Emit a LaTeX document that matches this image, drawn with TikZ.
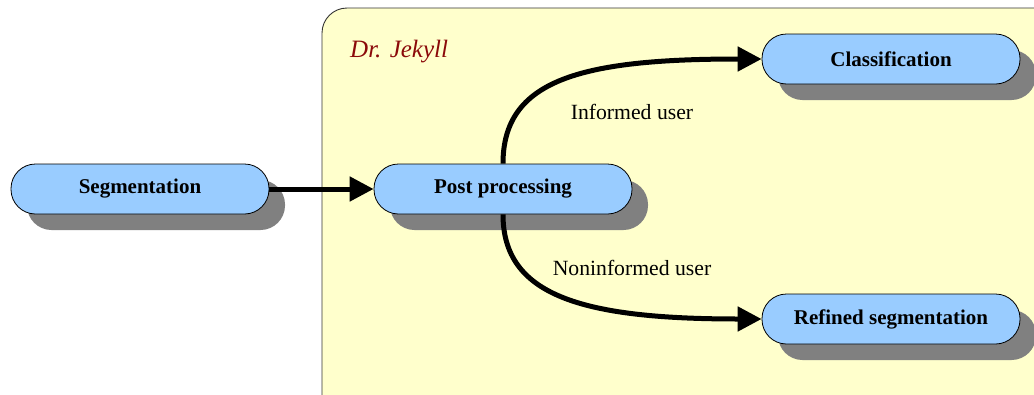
\documentclass[tikz,border=0pt]{standalone}
\usepackage{fontspec}
\setmainfont{Liberation Serif}
\usetikzlibrary{shadows,arrows.meta}
\definecolor{boxblue}{HTML}{99CCFF}
\definecolor{panelyellow}{HTML}{FFFFCC}
\definecolor{shadowgray}{HTML}{808080}
\definecolor{jekyllred}{HTML}{8B0A0A}
\tikzset{
  stepbox/.style={draw=black, line width=0.8pt, fill=boxblue, rounded corners=24.5pt,
    minimum width=258pt, minimum height=50pt, inner sep=0pt,
    font=\fontsize{21}{25}\selectfont\bfseries,
    drop shadow={shadow xshift=16pt, shadow yshift=-16pt, fill=shadowgray, opacity=1}},
  flow/.style={line width=5pt, -{Triangle[length=24pt,width=24pt]}},
  edgelabel/.style={font=\fontsize{21.7}{26}\selectfont, inner sep=0pt}
}
\begin{document}
\begin{tikzpicture}[x=1pt,y=-1pt]
\useasboundingbox (0,0) rectangle (1034,394);
\clip (0,0) rectangle (1034,394);
\fill[white] (0,0) rectangle (1034,394);
% panel
\draw[fill=panelyellow, draw=black!80, line width=0.9pt, rounded corners=25pt] (322,8) rectangle (1070,430);
\node[font=\fontsize{25}{30}\selectfont\itshape, text=jekyllred, anchor=west, inner sep=0pt] (jekyll) at (350,52) {Dr. Jekyll};
% nodes
\node[stepbox] (seg) at (140,189) {Segmentation};
\node[stepbox] (post) at (503,189) {Post processing};
\node[stepbox] (cls) at (891,59) {Classification};
\node[stepbox] (ref) at (891,319) {Refined segmentation};
% connectors
\draw[flow] (seg.east) -- (post.west);
\draw[flow] (post.north) .. controls (503,80) and (580,59) .. (cls.west);
\draw[flow] (post.south) .. controls (503,295) and (580,319) .. (ref.west);
% labels
\node[edgelabel] (inf) at (632,112) {Informed user};
\node[edgelabel] (ninf) at (632,268) {Noninformed user};
\end{tikzpicture}
\end{document}
